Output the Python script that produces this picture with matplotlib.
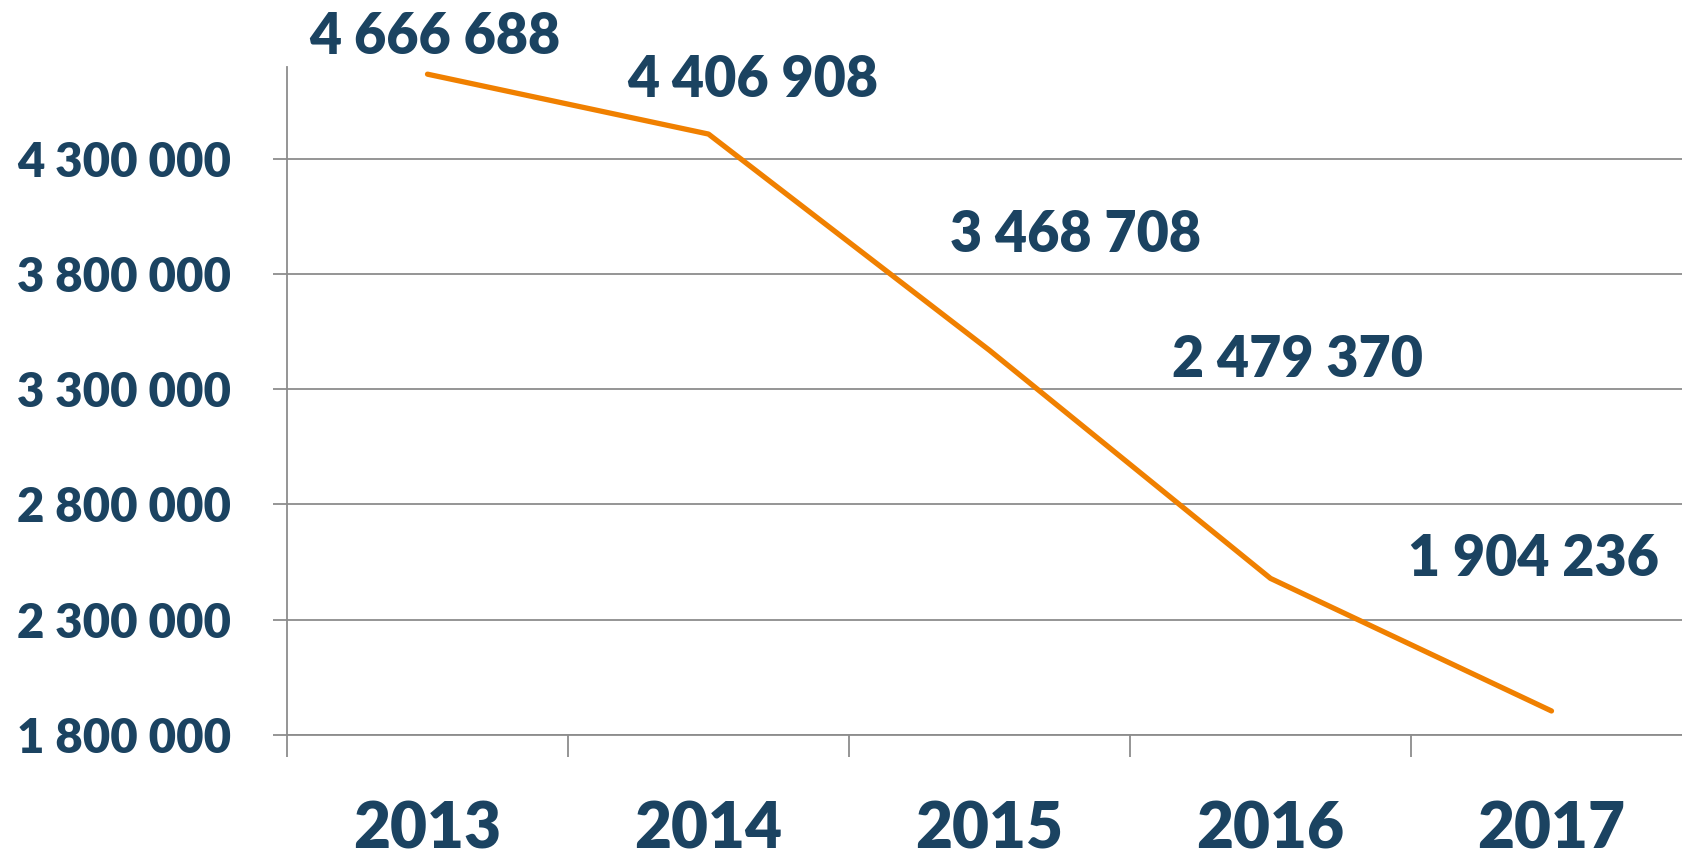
import matplotlib
matplotlib.use("Agg")
import matplotlib.pyplot as plt
from matplotlib.ticker import FixedLocator, FuncFormatter

years = ["2013", "2014", "2015", "2016", "2017"]
values = [4666688, 4406908, 3468708, 2479370, 1904236]
y_ticks = [1800000, 2300000, 2800000, 3300000, 3800000, 4300000]
# label offsets in pixels (dx, dy) from each point
label_offsets = [(7, 37), (44, 54), (86, 115), (27, 218), (-18, 152)]

TEXT = "#1B4361"
ORANGE = "#F08000"
GRID = "#8C8C8C"
WEIGHT = 'heavy'

def fmt(v):
    return f"{v:,.0f}".replace(",", " ")

plt.rcParams['font.family'] = ['Lato', 'DejaVu Sans']
fig = plt.figure(figsize=(16.82, 8.57), dpi=100)
W, H = 1682, 857
left, right, top, bottom = 287, 1692, 66.5, 735
ax = fig.add_axes([left / W, 1 - bottom / H, (right - left) / W, (bottom - top) / H])

x = list(range(len(years)))
ax.plot(x, values, color=ORANGE, lw=3.8, solid_capstyle='round', solid_joinstyle='round', zorder=3)
ax.set_xlim(-0.5, len(years) - 0.5)
ax.set_ylim(1800000, 4700000)

ax.yaxis.set_major_locator(FixedLocator(y_ticks))
ax.yaxis.set_major_formatter(FuncFormatter(lambda v, p: fmt(v)))
ax.grid(axis='y', color=GRID, lw=1.3)
ax.set_axisbelow(True)

ax.set_xticks(x)
ax.set_xticklabels(years)
ax.set_xticks([i - 0.5 for i in range(len(years) + 1)], minor=True)
ax.tick_params(axis='x', which='major', length=0, pad=47, labelsize=46, labelcolor=TEXT)
ax.tick_params(axis='x', which='minor', length=16, width=1.3, color=GRID, direction='out')
ax.tick_params(axis='y', which='major', length=10, width=1.3, color=GRID, pad=30, labelsize=34, labelcolor=TEXT)
for lab in ax.get_xticklabels() + ax.get_yticklabels():
    lab.set_fontweight(WEIGHT)

for s in ['top', 'right']:
    ax.spines[s].set_visible(False)
ax.spines['left'].set_color(GRID)
ax.spines['left'].set_linewidth(1.3)
ax.spines['bottom'].set_color(GRID)
ax.spines['bottom'].set_linewidth(1.3)

for xi, v, (dx, dy) in zip(x, values, label_offsets):
    ax.annotate(fmt(v), (xi, v), xytext=(dx, dy), textcoords='offset pixels',
                ha='center', va='center', fontsize=40, fontweight=WEIGHT, color=TEXT,
                annotation_clip=False)

fig.savefig("out.png", dpi=100)
